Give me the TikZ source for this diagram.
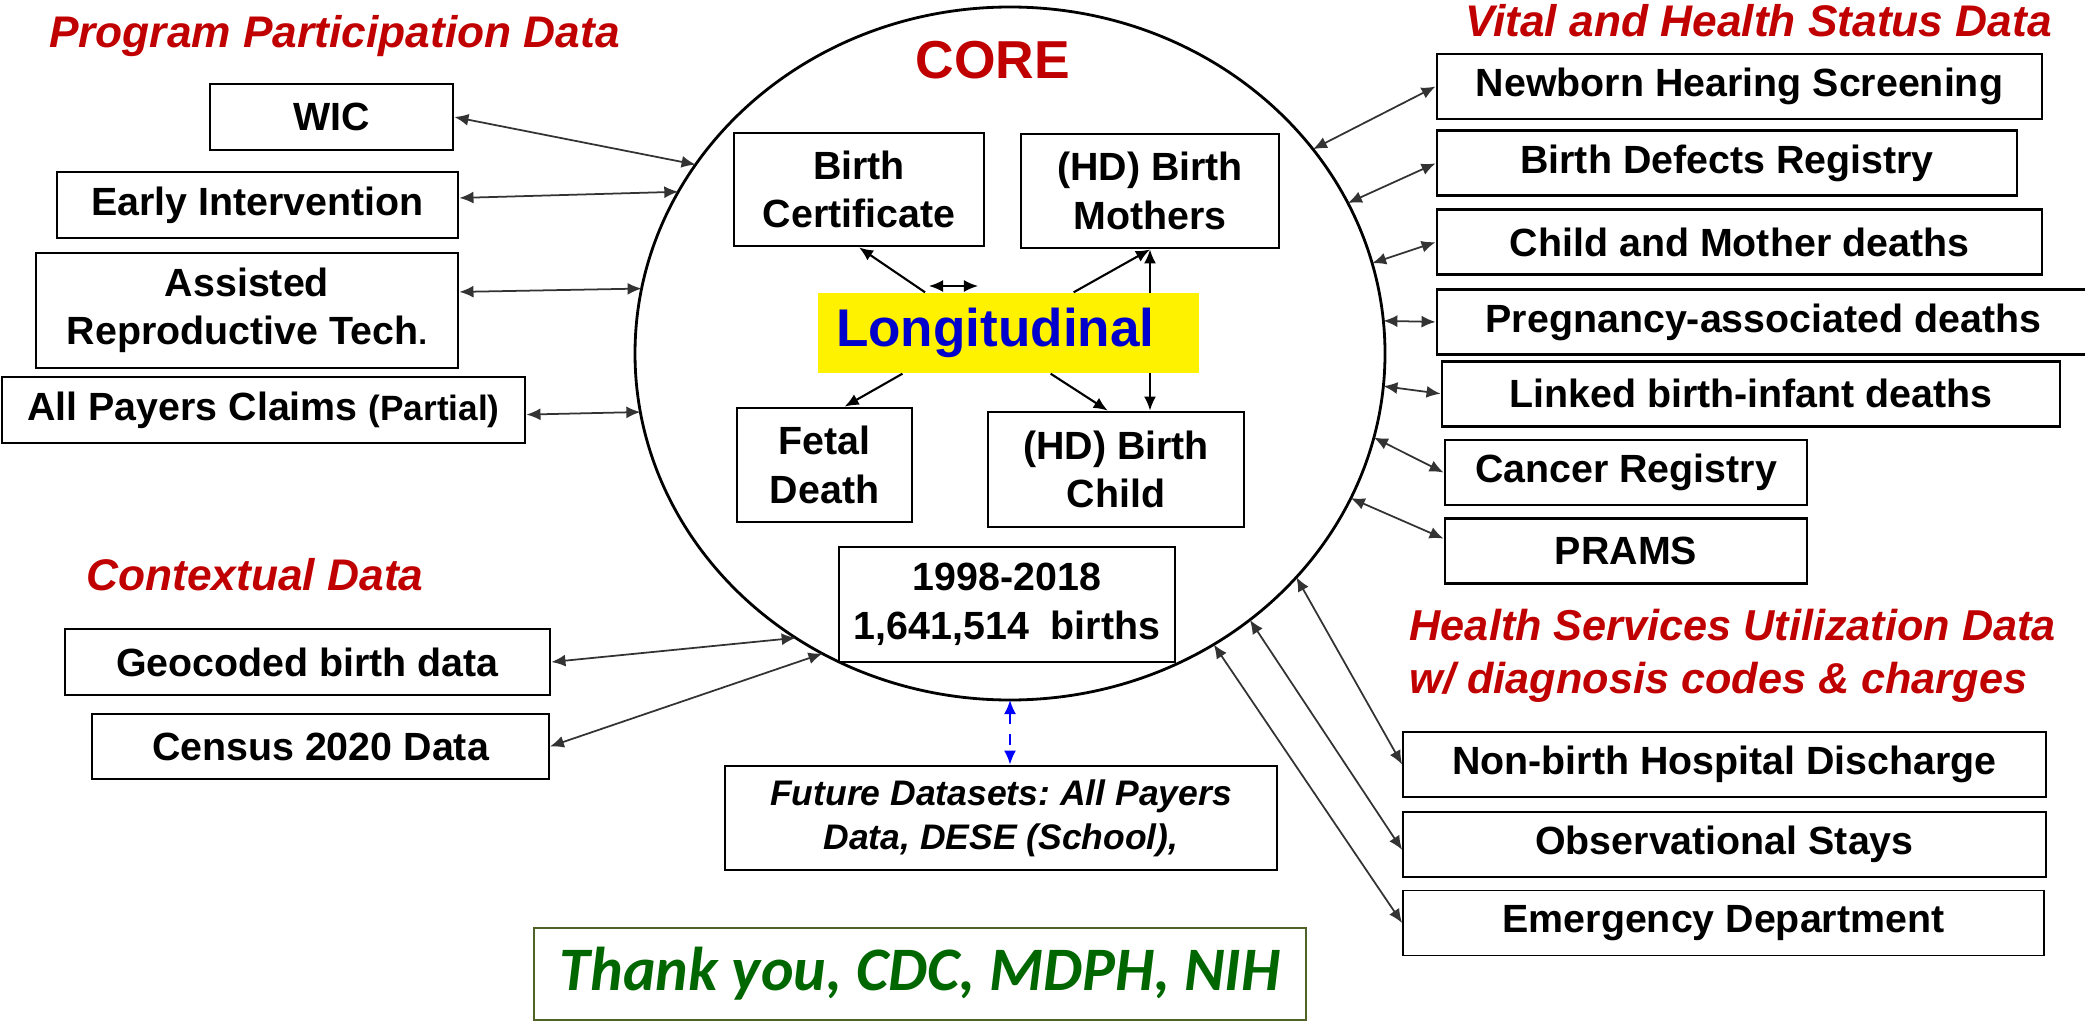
\documentclass[tikz,border=0pt]{standalone}
\usepackage{fontspec}
\setmainfont{Liberation Sans}
\newfontfamily\thanksfont{Carlito}
\usepackage{xcolor}
\usetikzlibrary{shapes.geometric}
\usetikzlibrary{arrows.meta}
\pgfdeclarelayer{background}
\pgfsetlayers{background,main}

\definecolor{titlered}{RGB}{192,0,0}
\definecolor{longiblue}{RGB}{0,0,204}
\definecolor{thanksgreen}{RGB}{0,102,0}
\definecolor{thanksframe}{RGB}{79,98,40}

\begin{document}
\frenchspacing
\begin{tikzpicture}

\useasboundingbox (0,0) rectangle (20.85,10.21);

% Define block styles
\tikzstyle{box} = [draw, line width=0.8pt, minimum height=0.65cm, align=center,
  inner sep=1pt, font=\fontsize{11.2}{13.8}\selectfont\bfseries]
\tikzstyle{thinbox} = [box, line width=0.5pt]
\tikzstyle{group} = [text=titlered, align=left,
  font=\fontsize{12.6}{15}\selectfont\bfseries\itshape]
\tikzstyle{link} = [draw, line width=0.5pt, color=black!80,
  {Latex[length=4pt,width=3.4pt]}-{Latex[length=4pt,width=3.4pt]}]
\tikzstyle{inlink} = [draw, line width=0.6pt, -{Latex[length=4pt,width=3.4pt]}]

% The core
\node (core) at (10.10,6.675) [draw, ellipse, line width=0.8pt, minimum width=7.5cm,
  minimum height=6.93cm, inner sep=0pt, outer sep=0pt] {};
\node (coretitle) at (9.93,9.61) [text=titlered,
  font=\fontsize{15.2}{18}\selectfont\bfseries] {CORE};

\node (bc) at (8.59,8.315) [box, minimum width=2.50cm, minimum height=1.13cm] {Birth\\Certificate};
\node (mothers) at (11.50,8.30) [box, minimum width=2.58cm, minimum height=1.14cm] {(HD) Birth\\Mothers};
\node (longi) at (10.085,6.88) [fill=yellow, inner xsep=0.18cm, text width=3.45cm, align=left,
  minimum height=0.80cm, text=longiblue, font=\fontsize{15.1}{18}\selectfont\bfseries] {Longitudinal};
\node (fetal) at (8.245,5.56) [box, minimum width=1.75cm, minimum height=1.14cm] {Fetal\\Death};
\node (child) at (11.16,5.515) [box, minimum width=2.56cm, minimum height=1.15cm] {(HD) Birth\\Child};
\node (years) at (10.07,4.165) [box, fill=white, minimum width=3.36cm, minimum height=1.15cm]
  {1998-2018\\1,641,514\ \ births};

\node (future) at (10.01,2.03) [box, minimum width=5.52cm, minimum height=1.04cm,
  font=\fontsize{10.1}{12.5}\selectfont\bfseries\itshape] {Future Datasets: All Payers\\Data, DESE (School),};
\node (thanks) at (9.20,0.47) [draw=thanksframe, line width=0.8pt, minimum width=7.72cm,
  minimum height=0.92cm, text=thanksgreen,
  font=\thanksfont\fontsize{17.6}{20}\selectfont\bfseries\itshape] {Thank you, CDC, MDPH, NIH};

% Program participation
\node (progtitle) at (3.345,9.85) [group] {Program Participation Data};
\node (wic) at (3.315,9.04) [box, minimum width=2.43cm, minimum height=0.66cm] {WIC};
\node (early) at (2.575,8.16) [box, minimum width=4.01cm, minimum height=0.66cm] {Early Intervention};
\node (art) at (2.47,7.105) [box, minimum width=4.22cm, minimum height=1.15cm] {Assisted\\Reproductive Tech{\small.}};
\node (apcd) at (2.635,6.11) [box, minimum width=5.23cm, minimum height=0.66cm]
  {All Payers Claims {\fontsize{10}{12}\selectfont(Partial)}};

% Contextual
\node (ctxtitle) at (2.55,4.46) [group] {Contextual Data};
\node (geo) at (3.075,3.59) [box, minimum width=4.85cm, minimum height=0.66cm] {Geocoded birth data};
\node (census) at (3.205,2.745) [thinbox, minimum width=4.57cm] {Census 2020 Data};

% Vital and health status
\node (vitaltitle) at (17.585,10.005) [group] {Vital and Health Status Data};
\node (newborn) at (17.395,9.345) [box, minimum width=6.05cm] {Newborn Hearing Screening};
\path (newborn.south west)+(0,-0.09) node[anchor=north west] (defects) [box, minimum width=5.80cm] {Birth Defects Registry};
\path (defects.south west)+(0,-0.11) node[anchor=north west] (cmdeaths) [box, minimum width=6.05cm] {Child and Mother deaths};
\path (cmdeaths.south west)+(0,-0.12) node[anchor=north west] (pregdeaths) [box, minimum width=6.53cm] {Pregnancy-associated deaths};
\path (pregdeaths.south west)+(0.05,-0.04) node[anchor=north west] (linked) [box, minimum width=6.18cm] {Linked birth-infant deaths};
\path (linked.south west)+(0.03,-0.11) node[anchor=north west] (cancer) [box, minimum width=3.62cm] {Cancer Registry};
\path (cancer.south west)+(0,-0.11) node[anchor=north west] (prams) [box, minimum width=3.62cm] {PRAMS};

% Health services utilization
\node (hsutitle) at (14.09,3.65) [group, anchor=west, inner sep=0pt,
  font=\fontsize{12.3}{15}\selectfont\bfseries\itshape]
  {Health Services Utilization Data\\w/ diagnosis codes \& charges};
\node (nonbirth) at (17.245,2.565) [thinbox, minimum width=6.43cm] {Non-birth Hospital Discharge};
\path (nonbirth.south west)+(0,-0.13) node[anchor=north west] (obsstays) [thinbox, minimum width=6.43cm] {Observational Stays};
\path (obsstays.south west)+(0,-0.12) node[anchor=north west] (emergency) [thinbox, minimum width=6.41cm] {Emergency Department};

% Links to the core
\path [link] (wic.east) -- (core.149);
\path [link] (early.2) -- (core.154.5);
\path [link] (art.5) -- (core.170.6);
\path [link] (apcd.-1.5) -- (core.189.8);
\path [link] (geo.east) -- (core.233.3);
\path [link] (census.east) -- (core.238.5);

\path [link] (newborn.west) -- (core.34.2);
\path [link] (defects.west) -- (core.24);
\path [link] (cmdeaths.west) -- (core.14.7);
\path [link] (pregdeaths.west) -- (core.5.1);
\path [link] (linked.west) -- (core.-5.7);
\path [link] (cancer.west) -- (core.-13.8);
\path [link] (prams.176) -- (core.-23.3);
\path [link] (nonbirth.west) -- (core.-38.4);
\path [link] (obsstays.181) -- (core.-48.2);
\path [link] (emergency.west) -- (core.-55.7);

\path [link, color=blue, dashed] (core.south) -- (core.south |- future.north);

% Links inside the core
\begin{pgfonlayer}{background}
  \path [link, color=black] (mothers.south) -- (mothers.south |- child.north);
\end{pgfonlayer}
\path [inlink] (longi.154.7) -- (bc.south);
\path [inlink] (longi.32.2) -- (mothers.south);
\path [inlink] (longi.201.6) -- (fetal.71);
\path [inlink] (longi.-44) -- (child.98);
\coordinate (swapl) at (9.29,7.35);
\coordinate (swapr) at (9.78,7.35);
\path [link, color=black] (swapl) -- (swapr);

\end{tikzpicture}
\end{document}
